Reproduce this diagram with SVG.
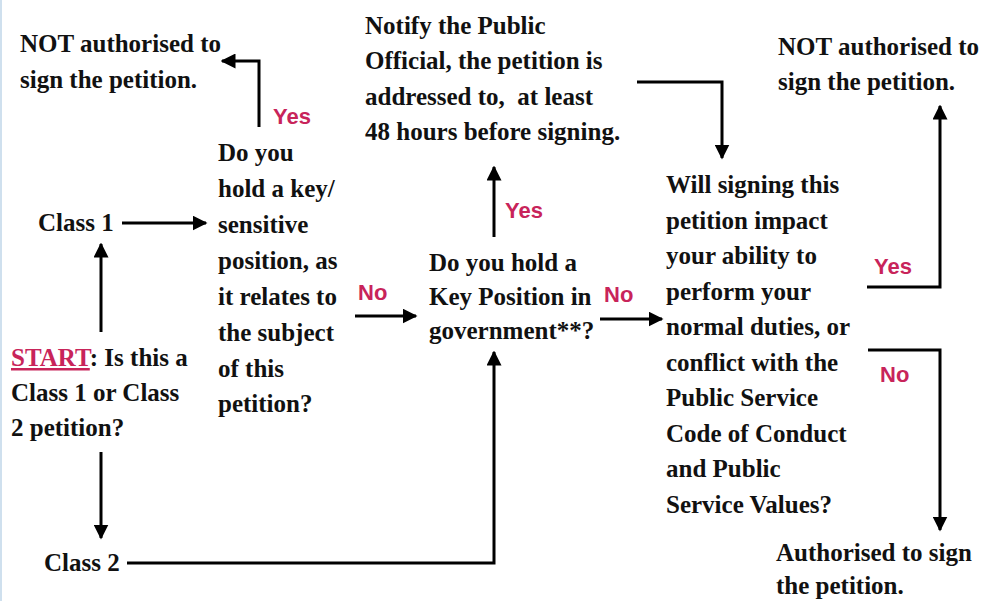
<svg xmlns="http://www.w3.org/2000/svg" width="995" height="601" viewBox="0 0 995 601">
<style>
text{font-family:"Liberation Serif","DejaVu Serif",serif;font-weight:bold;font-size:25px;fill:#111}
.lbl{fill:#c8245a;font-family:"Liberation Sans","DejaVu Sans",sans-serif;font-size:22px}
.c{fill:none;stroke:#000;stroke-width:3}
</style>
<defs>
<marker id="ah" viewBox="0 0 10 10" refX="9" refY="5" markerWidth="5" markerHeight="5" markerUnits="strokeWidth" orient="auto">
<path d="M0,0 L10,5 L0,10 z" fill="#000"/>
</marker>
</defs>
<rect width="995" height="601" fill="#fff"/>
<line x1="1" y1="0" x2="1" y2="601" stroke="#cfe0ee" stroke-width="2"/>

<g id="connectors">
<polyline class="c" points="259,127 259,61 222,61" marker-end="url(#ah)"/>
<line class="c" x1="122" y1="223" x2="206" y2="223" marker-end="url(#ah)"/>
<line class="c" x1="101" y1="332" x2="101" y2="244" marker-end="url(#ah)"/>
<line class="c" x1="101" y1="452" x2="101" y2="538" marker-end="url(#ah)"/>
<polyline class="c" points="127,563 494,563 494,352" marker-end="url(#ah)"/>
<line class="c" x1="355" y1="316" x2="416" y2="316" marker-end="url(#ah)"/>
<line class="c" x1="494" y1="237" x2="494" y2="167" marker-end="url(#ah)"/>
<polyline class="c" points="637,82 722,82 722,158" marker-end="url(#ah)"/>
<line class="c" x1="600" y1="319" x2="662" y2="319" marker-end="url(#ah)"/>
<polyline class="c" points="867,287 940,287 940,106" marker-end="url(#ah)"/>
<polyline class="c" points="868,350 940,350 940,530" marker-end="url(#ah)"/>
</g>

<g id="labels">
<text class="lbl" x="273" y="124">Yes</text>
<text class="lbl" x="358" y="300">No</text>
<text class="lbl" x="505" y="218">Yes</text>
<text class="lbl" x="604" y="302">No</text>
<text class="lbl" x="874" y="274">Yes</text>
<text class="lbl" x="880" y="382">No</text>
</g>

<g id="not-authorised-left">
<text x="20" y="52">NOT authorised to</text>
<text x="20" y="88">sign the petition.</text>
</g>

<g id="q-key-sensitive">
<text x="218" y="161">Do you</text>
<text x="218" y="197">hold a key/</text>
<text x="218" y="233">sensitive</text>
<text x="218" y="269">position, as</text>
<text x="218" y="305">it relates to</text>
<text x="218" y="341">the subject</text>
<text x="218" y="377">of this</text>
<text x="218" y="412">petition?</text>
</g>

<g id="class1">
<text x="38" y="231">Class 1</text>
</g>

<g id="start">
<text x="11" y="366"><tspan fill="#c8245a" text-decoration="underline">START</tspan>: Is this a</text>
<text x="11" y="401">Class 1 or Class</text>
<text x="11" y="436">2 petition?</text>
</g>

<g id="class2">
<text x="44" y="571">Class 2</text>
</g>

<g id="notify">
<text x="365" y="34">Notify the Public</text>
<text x="365" y="69">Official, the petition is</text>
<text x="365" y="105" style="white-space:pre">addressed to,  at least</text>
<text x="365" y="140">48 hours before signing.</text>
</g>

<g id="q-key-gov">
<text x="429" y="271">Do you hold a</text>
<text x="429" y="305">Key Position in</text>
<text x="429" y="339">government**?</text>
</g>

<g id="q-impact">
<text x="666" y="193">Will signing this</text>
<text x="666" y="229">petition impact</text>
<text x="666" y="264">your ability to</text>
<text x="666" y="300">perform your</text>
<text x="666" y="335">normal duties, or</text>
<text x="666" y="371">conflict with the</text>
<text x="666" y="406">Public Service</text>
<text x="666" y="442">Code of Conduct</text>
<text x="666" y="477">and Public</text>
<text x="666" y="513">Service Values?</text>
</g>

<g id="not-authorised-right">
<text x="778" y="55">NOT authorised to</text>
<text x="778" y="90">sign the petition.</text>
</g>

<g id="authorised">
<text x="776" y="561">Authorised to sign</text>
<text x="776" y="594">the petition.</text>
</g>
</svg>
